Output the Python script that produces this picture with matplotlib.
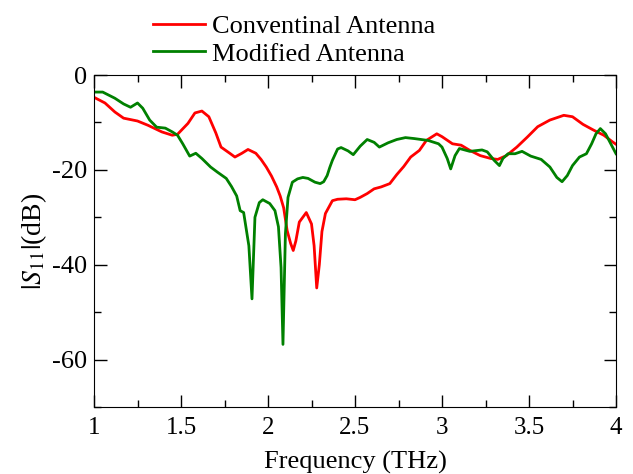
import matplotlib
matplotlib.use("Agg")
import matplotlib.pyplot as plt
from matplotlib.ticker import MultipleLocator

# Conventional antenna (red)
f_conv = [1.00, 1.063, 1.12, 1.17, 1.25, 1.31, 1.39, 1.45, 1.48, 1.54, 1.58, 1.62,
          1.66, 1.70, 1.73, 1.78, 1.81, 1.85, 1.885, 1.93, 1.96, 1.99, 2.02, 2.05,
          2.07, 2.09, 2.11, 2.13, 2.145, 2.16, 2.18, 2.22, 2.25, 2.265, 2.28, 2.295,
          2.31, 2.33, 2.37, 2.40, 2.45, 2.50, 2.53, 2.57, 2.61, 2.65, 2.70, 2.74,
          2.78, 2.82, 2.87, 2.91, 2.97, 3.00, 3.06, 3.11, 3.16, 3.22, 3.28, 3.32,
          3.37, 3.43, 3.49, 3.55, 3.62, 3.70, 3.75, 3.81, 3.87, 3.93, 3.98, 4.00]
s_conv = [-4.7, -5.9, -7.8, -9.1, -9.7, -10.6, -12.0, -12.7, -12.5, -10.2, -8.0, -7.6,
          -8.8, -12.2, -15.2, -16.5, -17.3, -16.5, -15.7, -16.5, -17.8, -19.4, -21.3, -23.6,
          -25.5, -28.0, -32.8, -35.5, -37.0, -35.0, -31.0, -29.0, -31.4, -36.0, -44.9, -40.0,
          -33.0, -29.2, -26.5, -26.2, -26.1, -26.3, -25.8, -25.0, -24.0, -23.6, -22.9, -21.0,
          -19.3, -17.3, -15.9, -13.8, -12.4, -13.0, -14.5, -14.8, -15.9, -17.0, -17.6, -17.8,
          -17.0, -15.2, -13.1, -10.9, -9.5, -8.5, -8.8, -10.4, -11.6, -12.7, -14.1, -14.6]

# Modified antenna (green)
f_mod = [1.00, 1.05, 1.12, 1.17, 1.21, 1.25, 1.28, 1.32, 1.36, 1.41, 1.45, 1.48,
         1.51, 1.55, 1.585, 1.62, 1.67, 1.71, 1.76, 1.79, 1.82, 1.84, 1.86, 1.89,
         1.908, 1.925, 1.95, 1.97, 2.01, 2.04, 2.06, 2.075, 2.086, 2.10, 2.115, 2.14,
         2.17, 2.20, 2.23, 2.27, 2.30, 2.32, 2.34, 2.355, 2.37, 2.40, 2.42, 2.46,
         2.49, 2.53, 2.57, 2.61, 2.64, 2.69, 2.74, 2.79, 2.84, 2.92, 2.98, 3.00,
         3.03, 3.05, 3.075, 3.10, 3.16, 3.23, 3.26, 3.30, 3.33, 3.35, 3.38, 3.42,
         3.46, 3.51, 3.57, 3.62, 3.66, 3.69, 3.72, 3.75, 3.79, 3.83, 3.86, 3.885,
         3.91, 3.94, 3.97, 4.00]
s_mod = [-3.6, -3.6, -4.9, -6.1, -6.8, -5.9, -7.0, -9.5, -11.0, -11.2, -12.0, -12.7,
         -14.5, -17.1, -16.5, -17.6, -19.4, -20.5, -21.8, -23.5, -25.5, -28.6, -29.0, -36.0,
         -47.2, -30.0, -26.9, -26.3, -27.1, -28.6, -32.0, -40.6, -56.8, -33.5, -25.8, -22.6,
         -21.9, -21.6, -21.8, -22.6, -22.9, -22.5, -21.2, -19.5, -18.0, -15.6, -15.3, -16.0,
         -16.8, -15.0, -13.6, -14.2, -15.2, -14.3, -13.6, -13.2, -13.4, -13.8, -14.5, -15.2,
         -17.6, -19.8, -17.0, -15.5, -16.1, -15.8, -16.2, -18.0, -19.1, -17.6, -16.6, -16.6,
         -16.1, -17.1, -17.8, -19.4, -21.6, -22.5, -21.2, -19.1, -17.3, -16.6, -14.5, -12.4,
         -11.3, -12.4, -14.5, -16.6]

xticks = [1, 1.5, 2, 2.5, 3, 3.5, 4]
xticklabels = ["1", "1.5", "2", "2.5", "3", "3.5", "4"]
yticks = [0, -20, -40, -60]

plt.rcParams['font.family'] = ['Liberation Serif', 'DejaVu Serif']
plt.rcParams['mathtext.fontset'] = 'stix'
plt.rcParams['axes.unicode_minus'] = False

fig = plt.figure(figsize=(6.33, 4.74), dpi=100)
ax = fig.add_axes([94/633, 1-407/474, 522/633, 332/474])

l1, = ax.plot(f_conv, s_conv, color='#ff0000', lw=2.0, label='Conventinal Antenna')
l2, = ax.plot(f_mod, s_mod, color='#008000', lw=2.0, label='Modified Antenna')

ax.set_xlim(1, 4)
ax.set_ylim(-70, 0)
ax.set_xticks(xticks)
ax.set_xticklabels(xticklabels)
ax.set_yticks(yticks)
ax.xaxis.set_minor_locator(MultipleLocator(0.25))
ax.yaxis.set_minor_locator(MultipleLocator(10))
ax.tick_params(which='both', direction='in', top=True, right=True)
ax.tick_params(axis='x', labelsize=18, pad=7)
ax.tick_params(axis='y', labelsize=19, pad=5)
ax.tick_params(which='major', length=9, width=1)
ax.tick_params(which='minor', length=5, width=1)

ax.set_xlabel('Frequency (THz)', fontsize=19, labelpad=9)
ax.set_ylabel(r'$|S_{11}|$(dB)', fontsize=20, labelpad=2)

fig.legend(handles=[l1, l2], loc='upper left', bbox_to_anchor=(142/633, 0.991),
           frameon=False, fontsize=19, handlelength=1.97, handletextpad=0.27,
           labelspacing=0.15, borderaxespad=0)

fig.savefig('out.png', dpi=100)
